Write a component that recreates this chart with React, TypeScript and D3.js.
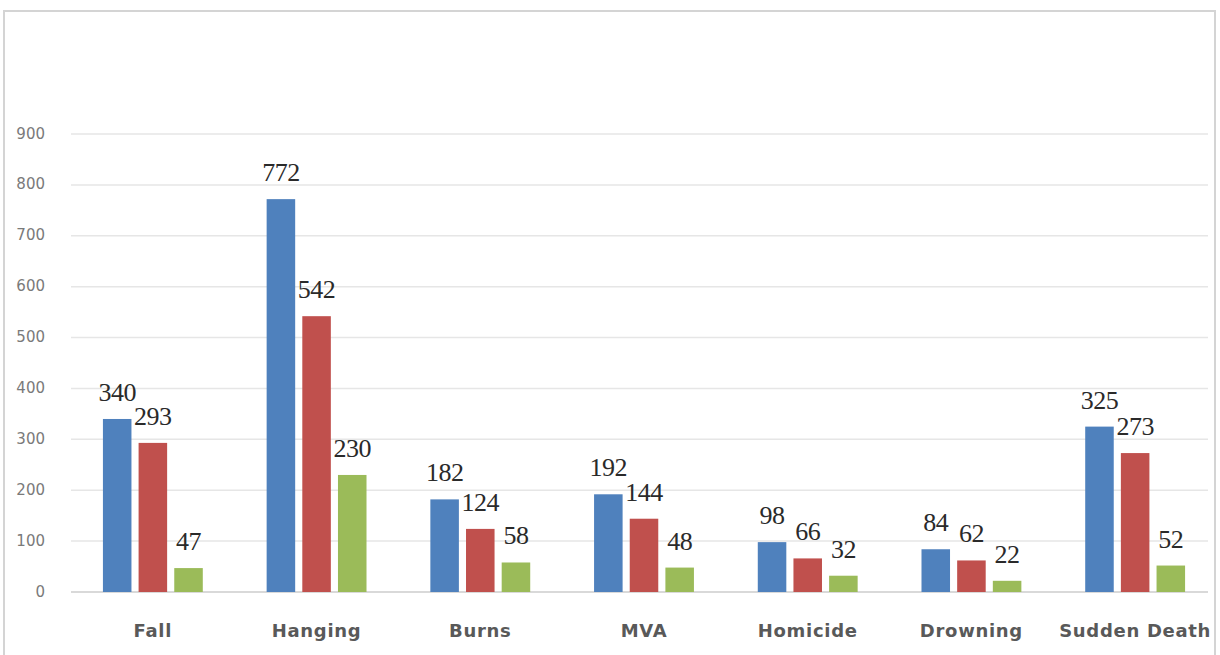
import React from "react";
import * as d3 from "d3";

const categories = ["Fall", "Hanging", "Burns", "MVA", "Homicide", "Drowning", "Sudden Death"];
const seriesNames = ["s1", "s2", "s3"];
const seriesA = [340, 772, 182, 192, 98, 84, 325];
const seriesB = [293, 542, 124, 144, 66, 62, 273];
const seriesC = [47, 230, 58, 48, 32, 22, 52];
const yTicks = [0, 100, 200, 300, 400, 500, 600, 700, 800, 900];

const colors = ["#4F81BD", "#C0504D", "#9BBB59"];

const WIDTH = 1220;
const HEIGHT = 655;

export default function App() {
    const margin = { top: 134, bottom: 592, left: 71, right: 1217 };
    const gridRight = 1208;

    const x = d3.scaleBand<string>()
        .domain(categories)
        .range([margin.left, margin.right])
        .paddingInner(0.39)
        .paddingOuter(0.195);

    const xSub = d3.scaleBand<string>()
        .domain(seriesNames)
        .range([0, x.bandwidth()])
        .paddingInner(0.2);

    const y = d3.scaleLinear([0, 900], [margin.bottom, margin.top]);

    const allSeries = [seriesA, seriesB, seriesC];

    return <svg width={WIDTH} height={HEIGHT}
        style={{ position: "absolute", left: 0, top: 0, background: "#fff" }}>
        {/* chart frame */}
        <rect x={4} y={11} width={1211} height={700} fill="#fff" stroke="#d4d4d4" strokeWidth={2} />

        <g name="yTicks">
            {yTicks.map((tick) => (
                <g key={tick}>
                    <line x1={margin.left} x2={gridRight} y1={y(tick)} y2={y(tick)}
                        stroke={tick === 0 ? "#d9d9d9" : "#e6e6e6"} strokeWidth={tick === 0 ? 2 : 1.5} />
                    <text x={45} y={y(tick)} dominantBaseline="middle" textAnchor="end"
                        fontFamily="DejaVu Sans" fontSize={15} fill="#7a7a7a">{tick}</text>
                </g>
            ))}
        </g>

        <g name="bars">
            {categories.map((cat, i) => (
                <g key={cat} transform={`translate(${x(cat)},0)`}>
                    {allSeries.map((s, j) => (
                        <rect key={j} x={xSub(seriesNames[j])} y={y(s[i])}
                            width={xSub.bandwidth()} height={y(0) - y(s[i])} fill={colors[j]} />
                    ))}
                    {allSeries.map((s, j) => (
                        <text key={"l" + j} x={xSub(seriesNames[j])! + xSub.bandwidth() / 2} y={y(s[i]) - 18}
                            textAnchor="middle" fontFamily="Liberation Serif" fontSize={26} letterSpacing={-0.5}
                            fill="#2a2a2a">
                            {s[i]}
                        </text>
                    ))}
                </g>
            ))}
        </g>

        <g name="xLabels">
            {categories.map((cat) => (
                <text key={cat} x={x(cat)! + x.bandwidth() / 2} y={637} textAnchor="middle"
                    fontFamily="DejaVu Sans" fontWeight="bold" fontSize={18} letterSpacing={0.7}
                    fill="#595959">{cat}</text>
            ))}
        </g>
    </svg>;
}
